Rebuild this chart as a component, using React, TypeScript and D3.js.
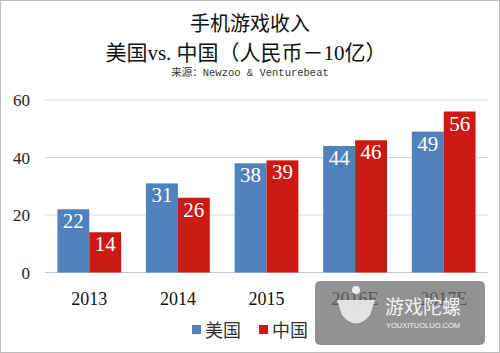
import React from 'react';
import * as d3 from 'd3';

const years = ['2013', '2014', '2015', '2016E', '2017E'];
const usValues = [22, 31, 38, 44, 49];
const cnValues = [14, 26, 39, 46, 56];
const seriesNames = ['美国', '中国'];
const yTicks = [0, 20, 40, 60];

const W = 500;
const H = 353;
const blue = '#4F81BD';
const red = '#CE1A14';
const serif = '"Liberation Serif", "Noto Sans CJK SC", serif';

function App() {
  const x = d3.scaleBand().domain(years).range([45, 488]).paddingInner(0.28).paddingOuter(0.14);
  const sub = d3.scaleBand().domain(seriesNames).range([0, x.bandwidth()]);
  const y = d3.scaleLinear().domain([0, 60]).range([272.5, 100]);

  const series = [
    { name: seriesNames[0], values: usValues, color: blue },
    { name: seriesNames[1], values: cnValues, color: red },
  ];

  return (
    <svg width={W} height={H} style={{ position: 'absolute', left: 0, top: 0, background: '#fff' }}>
      <rect x={0.5} y={0.5} width={W - 1} height={H - 1} fill="#fff" stroke="#bdbdbd" />
      <text x={250} y={31} textAnchor="middle" fontFamily={serif} fontSize={20} fill="#111">手机游戏收入</text>
      <text x={246} y={60} textAnchor="middle" fontFamily={serif} fontSize={21} fill="#111">美国vs. 中国（人民币－10亿）</text>
      <text x={250} y={76} textAnchor="middle" fontSize={10.5} fill="#333">
        <tspan fontFamily='"Noto Sans CJK SC", sans-serif'>来源：</tspan>
        <tspan fontFamily='"Liberation Mono", monospace'>Newzoo &amp; Venturebeat</tspan>
      </text>

      {yTicks.map(t => (
        <g key={t}>
          <line x1={45} x2={488} y1={y(t)} y2={y(t)} stroke={t === 0 ? '#c8c8c8' : '#d9d9d9'} strokeWidth={1} />
          <text x={30} y={y(t) + 6} textAnchor="end" fontFamily={serif} fontSize={17} fill="#222">{t}</text>
        </g>
      ))}

      {series.map(s => (
        <g key={s.name}>
          {s.values.map((v, i) => {
            const bx = (x(years[i]) as number) + (sub(s.name) as number);
            return (
              <g key={i}>
                <rect x={bx} y={y(v)} width={sub.bandwidth()} height={y(0) - y(v)} fill={s.color} />
                <text x={bx + sub.bandwidth() / 2} y={y(v) + 19} textAnchor="middle" fontFamily={serif} fontSize={21} fill="#fff">{v}</text>
              </g>
            );
          })}
        </g>
      ))}

      {years.map(yr => (
        <text key={yr} x={(x(yr) as number) + x.bandwidth() / 2} y={305} textAnchor="middle" fontFamily={serif} fontSize={18} fill="#111">{yr}</text>
      ))}

      <rect x={192} y={325} width={9} height={9} fill={blue} />
      <text x={205} y={337} fontFamily={serif} fontSize={18} fill="#333">{seriesNames[0]}</text>
      <rect x={259} y={325} width={9} height={9} fill={red} />
      <text x={272} y={337} fontFamily={serif} fontSize={18} fill="#333">{seriesNames[1]}</text>

      <g>
        <rect x={315} y={281} width={170} height={64} rx={5} fill="#6e6e6e" opacity={0.75} />
        <path d="M337,300 L375,300 L370,315 Q356,332 342,315 Z" fill="#ececec" opacity={0.9} />
        <circle cx={356} cy={290} r={4} fill="#ececec" />
        <text x={423} y={314} textAnchor="middle" fontFamily='"Noto Sans CJK SC", sans-serif' fontSize={19} fill="#f2f2f2">游戏陀螺</text>
        <text x={423} y={328} textAnchor="middle" fontFamily='"Liberation Sans", sans-serif' fontSize={7.5} fill="#f2f2f2">YOUXITUOLUO.COM</text>
      </g>
    </svg>
  );
}

export default App;
